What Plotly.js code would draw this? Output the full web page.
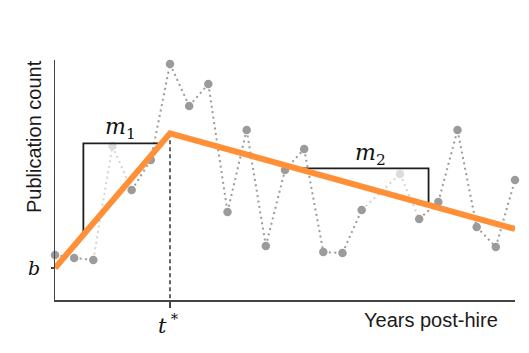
<!DOCTYPE html>
<html>
<head>
<meta charset="utf-8">
<script src="https://cdn.plot.ly/plotly-3.0.1.min.js"></script>
<style>html,body{margin:0;padding:0;background:#fff;}#chart{width:529px;height:353px;}</style>
</head>
<body>
<div id="chart"></div>
<script>
// Observed yearly publication counts (year 17 not shown)
var years  = [0,1,2,3,4,5,6,7,8,9,10,11,12,13,14,15,16,18,19,20,21,22,23,24];
var counts = [2.25,2.1,2.0,7.7,5.5,7.0,11.8,9.7,10.8,4.4,8.5,2.7,6.5,7.55,2.4,2.35,4.5,6.3,4.05,4.9,8.5,3.65,2.65,6.0];
var fadedYears = [3,18];

// Piecewise-linear fit parameters
var b = 1.6;       // intercept
var tStar = 6;     // change point
var m1 = 1.122;    // slope before t*
var m2 = -0.2656;  // slope after t*
var tEnd = 24;

// Slope-bracket parameters
var bracket1X = 1.48, bracket1Level = 7.83;
var bracket2X = 19.49, bracket2Level = 6.58;

function fit(t){ return t <= tStar ? b + m1*t : b + m1*tStar + m2*(t - tStar); }
var peak = fit(tStar);

// Split dotted connecting line into normal and faded segments
var darkX = [], darkY = [], lightX = [], lightY = [];
for (var i = 0; i < years.length - 1; i++) {
  var faded = fadedYears.indexOf(years[i]) >= 0 || fadedYears.indexOf(years[i+1]) >= 0;
  var tx = faded ? lightX : darkX, ty = faded ? lightY : darkY;
  tx.push(years[i], years[i+1], null);
  ty.push(counts[i], counts[i+1], null);
}
var markerColors = years.map(function(y){ return fadedYears.indexOf(y) >= 0 ? '#dcdcdc' : '#9b9b9b'; });

var dotDash = '2px,3.5px';
var traces = [
  {x: lightX, y: lightY, mode: 'lines', line: {color: '#d4d4d4', width: 2, dash: dotDash}, hoverinfo: 'skip'},
  {x: darkX, y: darkY, mode: 'lines', line: {color: '#9b9b9b', width: 2, dash: dotDash}, hoverinfo: 'skip'},
  {x: years, y: counts, mode: 'markers', marker: {color: markerColors, size: 8.5}, cliponaxis: false},
  // dashed vertical at t*
  {x: [tStar, tStar], y: [peak, 0], mode: 'lines', line: {color: '#333', width: 1.5, dash: '4px,3px'}},
  // slope bracket m1
  {x: [bracket1X, bracket1X, (bracket1Level - b)/m1], y: [fit(bracket1X), bracket1Level, bracket1Level],
   mode: 'lines', line: {color: '#1e1e1e', width: 1.8}},
  // slope bracket m2
  {x: [tStar + (bracket2Level - peak)/m2, bracket2X, bracket2X], y: [bracket2Level, bracket2Level, fit(bracket2X)],
   mode: 'lines', line: {color: '#1e1e1e', width: 1.8}},
  // fit line
  {x: [0, tStar, tEnd], y: [fit(0), peak, fit(tEnd)], mode: 'lines', line: {color: '#ff9038', width: 6}}
];

var serif = 'DejaVu Serif';
var sans = 'Liberation Sans, Arial, sans-serif';
var layout = {
  width: 529, height: 353,
  margin: {l: 55, r: 14, t: 60, b: 53},
  paper_bgcolor: '#fff', plot_bgcolor: '#fff',
  showlegend: false,
  xaxis: {range: [0, 24], showgrid: false, zeroline: false, showline: true, linecolor: '#444', linewidth: 1.5,
          tickvals: [tStar], ticks: 'outside', ticklen: 6, tickwidth: 1.5, tickcolor: '#444', showticklabels: false, fixedrange: true},
  yaxis: {range: [0, 12], showgrid: false, zeroline: false, showline: true, linecolor: '#444', linewidth: 1.5,
          tickvals: [b], ticks: 'outside', ticklen: 3, tickwidth: 1.5, tickcolor: '#444', showticklabels: false, fixedrange: true},
  annotations: [
    {xref: 'paper', yref: 'paper', x: -0.0467, y: 0.681, text: 'Publication count', textangle: -90, showarrow: false,
     xanchor: 'center', yanchor: 'middle', font: {family: sans, size: 20, color: '#1a1a1a'}},
    {xref: 'paper', yref: 'paper', x: 0.817, y: -0.085, text: 'Years post-hire', showarrow: false,
     xanchor: 'center', yanchor: 'middle', font: {family: sans, size: 20, color: '#1a1a1a'}},
    {xref: 'paper', yref: 'y', x: -0.046, y: b, text: '<i>b</i>', showarrow: false,
     xanchor: 'center', yanchor: 'middle', font: {family: serif, size: 19, color: '#111'}},
    {xref: 'x', yref: 'paper', x: tStar - 0.1, y: -0.1, text: '<i>t</i>\u2009<sup>*</sup>', showarrow: false,
     xanchor: 'center', yanchor: 'middle', font: {family: serif, size: 21, color: '#111'}},
    {xref: 'x', yref: 'y', x: 3.44, y: 8.6, text: '<i>m</i><sub>1</sub>', showarrow: false,
     xanchor: 'center', yanchor: 'middle', font: {family: serif, size: 22, color: '#111'}},
    {xref: 'x', yref: 'y', x: 16.48, y: 7.3, text: '<i>m</i><sub>2</sub>', showarrow: false,
     xanchor: 'center', yanchor: 'middle', font: {family: serif, size: 22, color: '#111'}}
  ]
};
Plotly.newPlot('chart', traces, layout, {displayModeBar: false, staticPlot: true});
</script>
</body>
</html>
